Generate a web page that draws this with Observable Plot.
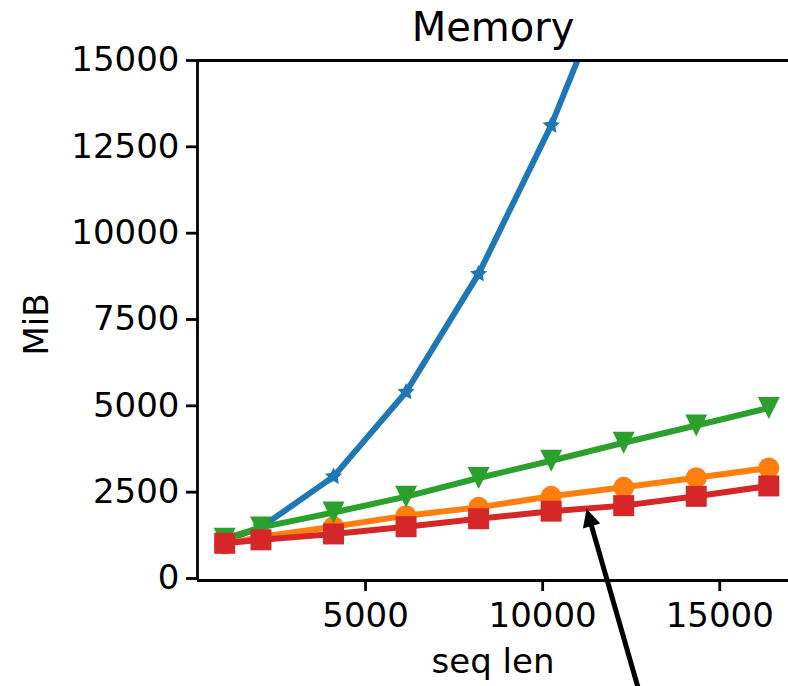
<!DOCTYPE html>
<html>
<head>
<meta charset="utf-8">
<script src="https://cdn.jsdelivr.net/npm/d3@7"></script>
<script src="https://cdn.jsdelivr.net/npm/@observablehq/plot@0.6"></script>
<style>
  html, body { margin: 0; padding: 0; background: #fff; overflow: hidden; }
  #chart svg { display: block; }
</style>
</head>
<body>
<div id="chart"></div>
<script>
// ---- data ----
const seqLen = [1024, 2048, 4096, 6144, 8192, 10240, 12288, 14336, 16384];
const blueMem   = [1100, 1480, 2950, 5400, 8820, 13120, 18300];           // leaves the axes after 10240
const orangeMem = [1000, 1210, 1500, 1820, 2060, 2380, 2640, 2920, 3200];
const greenMem  = [1150, 1480, 1910, 2370, 2910, 3410, 3930, 4430, 4940];
const redMem    = [1020, 1120, 1290, 1500, 1730, 1950, 2110, 2380, 2680];

const yTicks = [0, 2500, 5000, 7500, 10000, 12500, 15000];
const xTicks = [5000, 10000, 15000];
const xDomain = [256, 16940];
const yDomain = [-58, 15000];

const titleText = "Memory";
const xLabel = "seq len";
const yLabel = "MiB";

// annotation arrow (data coordinates): tip near the red/orange lines, tail below the axes
const arrowTip  = {x: 11240, y: 2020};
const arrowTail = {x: 12760, y: -3400};

// ---- layout ----
const W = 788, H = 686;
const mL = 197, mR = 0, mT = 60, mB = 106;
const FONT = "DejaVu Sans, Liberation Sans, sans-serif";

const C = {blue: "#1f77b4", orange: "#ff7f0e", green: "#2ca02c", red: "#d62728"};

function rows(mem) { return mem.map((m, i) => ({seq: seqLen[i], mem: m})); }

const squareSym = {draw(ctx, size) { const r = Math.sqrt(size / Math.PI); ctx.rect(-r, -r, 2 * r, 2 * r); }};
const triDownSym = {draw(ctx, size) { const r = Math.sqrt(size / Math.PI);
  ctx.moveTo(0, r); ctx.lineTo(-r, -r); ctx.lineTo(r, -r); ctx.closePath(); }};
const starSym = {draw(ctx, size) { const R = Math.sqrt(size / Math.PI), ri = R * 0.5;
  for (let i = 0; i < 10; i++) {
    const a = -Math.PI / 2 + i * Math.PI / 5, rr = i % 2 ? ri : R;
    const px = rr * Math.cos(a), py = rr * Math.sin(a);
    if (i) ctx.lineTo(px, py); else ctx.moveTo(px, py);
  }
  ctx.closePath(); }};

// arrow head orientation computed through the same scales
const sx = Plot.scale({x: {domain: xDomain, range: [mL, W - mR]}});
const sy = Plot.scale({y: {domain: yDomain, range: [H - mB, mT]}});
const tipPx = [sx.apply(arrowTip.x), sy.apply(arrowTip.y)];
const tailPx = [sx.apply(arrowTail.x), sy.apply(arrowTail.y)];
const dl = Math.hypot(tailPx[0] - tipPx[0], tailPx[1] - tipPx[1]);
const ux = (tailPx[0] - tipPx[0]) / dl, uy = (tailPx[1] - tipPx[1]) / dl;
const headLen = 18, headHalf = 9;
const headSym = {draw(ctx) {
  ctx.moveTo(0, 0);
  ctx.lineTo(ux * headLen - uy * headHalf, uy * headLen + ux * headHalf);
  ctx.lineTo(ux * headLen + uy * headHalf, uy * headLen - ux * headHalf);
  ctx.closePath();
}};
const shaftEnd = {x: sx.invert(tipPx[0] + ux * (headLen - 2)), y: sy.invert(tipPx[1] + uy * (headLen - 2))};

function series(mem, color, symbol, r, clip) {
  const d = rows(mem);
  return [
    Plot.line(d, {x: "seq", y: "mem", stroke: color, strokeWidth: 6, strokeLinejoin: "round", clip}),
    Plot.dot(d, {x: "seq", y: "mem", fill: color, r, symbol, clip})
  ];
}

const chart = Plot.plot({
  width: W, height: H,
  marginLeft: mL, marginRight: mR, marginTop: mT, marginBottom: mB,
  style: {fontFamily: FONT, background: "#fff", color: "#000", overflow: "visible"},
  x: {domain: xDomain, axis: null},
  y: {domain: yDomain, axis: null},
  marks: [
    ...series(blueMem, C.blue, starSym, 9, true),
    ...series(orangeMem, C.orange, "circle", 10.5, false),
    ...series(greenMem, C.green, triDownSym, 11, false),
    ...series(redMem, C.red, squareSym, 10.5, false),
    // spines
    Plot.ruleX([xDomain[0]], {stroke: "#000", strokeWidth: 2.8}),
    Plot.ruleY(yDomain, {stroke: "#000", strokeWidth: 2.8}),
    // axes
    Plot.axisY(yTicks, {tickSize: 11, tickPadding: 7, fontSize: 34, strokeWidth: 2.8,
      tickFormat: d => String(d), label: null, fill: "#000", stroke: "#000"}),
    Plot.axisX(xTicks, {tickSize: 11, tickPadding: 11, fontSize: 34, strokeWidth: 2.8,
      tickFormat: d => String(d), label: null, fill: "#000", stroke: "#000"}),
    // labels
    Plot.text([titleText], {frameAnchor: "top", dy: -20, lineAnchor: "bottom", fontSize: 40, fill: "#000"}),
    Plot.text([xLabel], {frameAnchor: "bottom", dy: 92, lineAnchor: "bottom", fontSize: 34, fill: "#000"}),
    Plot.text([yLabel], {frameAnchor: "left", dx: -150, dy: 4, rotate: -90, textAnchor: "middle",
      lineAnchor: "bottom", fontSize: 34, fill: "#000"}),
    // annotation arrow
    Plot.link([{x1: arrowTail.x, y1: arrowTail.y, x2: shaftEnd.x, y2: shaftEnd.y}],
      {x1: "x1", y1: "y1", x2: "x2", y2: "y2", stroke: "#000", strokeWidth: 5}),
    Plot.dot([arrowTip], {x: "x", y: "y", symbol: headSym, fill: "#000", r: 5})
  ]
});
document.getElementById("chart").appendChild(chart);
</script>
</body>
</html>
